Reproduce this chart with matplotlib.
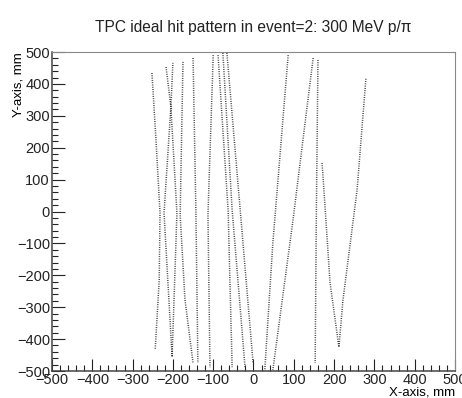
import matplotlib.pyplot as plt
from matplotlib.ticker import MultipleLocator

plt.rcParams['font.family'] = ['Liberation Sans', 'DejaVu Sans']

# hit tracks in the x-y plane, mm
track_a_x = [-252, -242, -232, -234, -244]
track_a_y = [434, 224, -5, -215, -434]
track_b_x = [-217, -205, -190, -202, -222, -205, -200]
track_b_y = [453, 328, -5, -456, -5, 328, 466]
track_c_x = [-175, -182, -170, -150]
track_c_y = [469, -11, -277, -475]
track_d_x = [-150, -143, -138]
track_d_y = [481, 5, -475]
track_e_x = [-100, -113, -108]
track_e_y = [490, -11, -488]
track_f_x = [-88, -63, -53]
track_f_y = [490, 5, -488]
track_g_x = [-76, -53, -21]
track_g_y = [497, 5, -488]
track_h_x = [-66, -33, -1]
track_h_y = [497, 5, -475]
track_i_x = [86, 48, 28]
track_i_y = [490, -99, -497]
track_j_x = [148, 98, 48]
track_j_y = [481, -27, -497]
track_k_x = [160, 156, 153]
track_k_y = [475, 0, -475]
track_l_x = [170, 172, 190, 212, 222, 257, 279]
track_l_y = [152, 120, -224, -425, -278, 67, 418]

tracks = [(track_a_x, track_a_y), (track_b_x, track_b_y), (track_c_x, track_c_y),
          (track_d_x, track_d_y), (track_e_x, track_e_y), (track_f_x, track_f_y),
          (track_g_x, track_g_y), (track_h_x, track_h_y), (track_i_x, track_i_y),
          (track_j_x, track_j_y), (track_k_x, track_k_y), (track_l_x, track_l_y)]

fig = plt.figure(figsize=(4.62, 3.98), dpi=100)
ax = fig.add_axes([0.1126, 0.0678, 0.8722, 0.8015])

for tx, ty in tracks:
    ax.plot(tx, ty, color='#3a3a3a', lw=1.1, linestyle=(0, (0.6, 0.9)))

ax.set_xlim(-500, 500)
ax.set_ylim(-500, 500)

# ROOT-like axes: ticks inside, only bottom and left
ax.xaxis.set_major_locator(MultipleLocator(100))
ax.xaxis.set_minor_locator(MultipleLocator(20))
ax.yaxis.set_major_locator(MultipleLocator(100))
ax.yaxis.set_minor_locator(MultipleLocator(20))
ax.tick_params(which='both', direction='in', top=False, right=False,
               labelsize=10.5, colors='#222222', pad=1.5)
ax.tick_params(which='major', length=9, width=0.8)
ax.tick_params(which='minor', length=4.5, width=0.8)
for side in ['top', 'right']:
    ax.spines[side].set_color('#888888')
for side in ['bottom', 'left']:
    ax.spines[side].set_color('#444444')
    ax.spines[side].set_linewidth(1.1)

ax.set_xlabel('X-axis, mm', fontsize=9.5, loc='right', labelpad=0)
ax.set_ylabel('Y-axis, mm', fontsize=9.5, loc='top', labelpad=0)
ax.xaxis.set_label_coords(1.0, -0.047)
ax.yaxis.set_label_coords(-0.068, 1.0)

# title centred over the frame, like ROOT
fig.text(0.1126 + 0.8722 / 2, 0.932, 'TPC ideal hit pattern in event=2: 300 MeV p/\u03c0',
         ha='center', va='center', fontsize=11.2, color='#222222')

fig.savefig('out.png', dpi=100)
